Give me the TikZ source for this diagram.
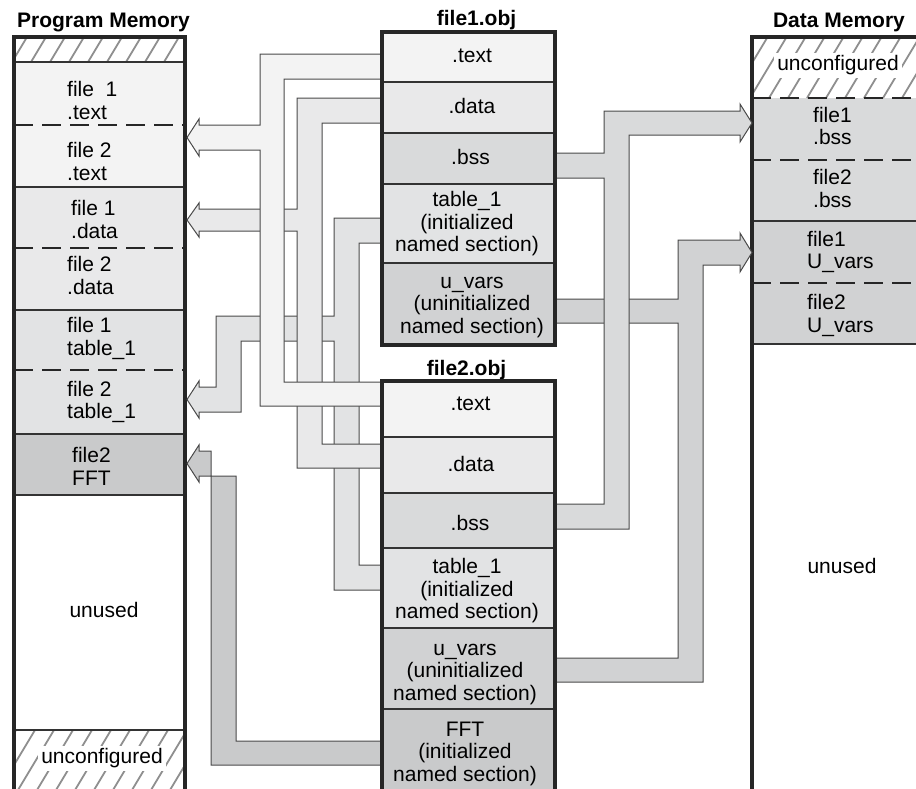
\documentclass[tikz,border=0pt]{standalone}
\usepackage{fontspec}
\setmainfont{Liberation Sans}
\definecolor{txtgray}{HTML}{F3F3F3}
\definecolor{datgray}{HTML}{E9E9EA}
\definecolor{tabgray}{HTML}{E2E3E4}
\definecolor{bssgray}{HTML}{D9DADB}
\definecolor{uvgray}{HTML}{D1D2D3}
\definecolor{fftgray}{HTML}{C9CACB}
\definecolor{edgegray}{HTML}{4A4A4A}
\definecolor{hatchgray}{HTML}{8F8F8F}

% hatched (unconfigured) area: x1, y1 (top), x2, y2 (bottom)
\newcommand{\hatcharea}[4]{%
  \begin{scope}
    \clip (#1,#2) rectangle (#3,#4);
    \fill[white] (#1,#2) rectangle (#3,#4);
    \foreach \k in {0,...,12}
      \draw[hatchline] ({#1-40+19*\k},#4) -- ++({0.6*(#4-#2)},{#2-#4});
  \end{scope}}

\begin{document}
\begin{tikzpicture}[
    x=1pt, y=-1pt,
    memframe/.style={draw=black!85, line width=3.5pt, line join=miter},
    secline/.style={draw=black!80, line width=1.3pt},
    dashsec/.style={draw=black!85, line width=2.5pt, dash pattern=on 19pt off 9pt},
    band/.style={draw=edgegray, line width=1pt, line join=miter},
    hatchline/.style={draw=hatchgray, line width=1.8pt},
    lbl/.style={font=\fontsize{21}{22.5}\selectfont, align=center, inner sep=0pt,
        execute at begin node=\strut, execute at end node=\strut},
    lblw/.style={lbl, align=left, anchor=west},
    ttl/.style={font=\fontsize{21}{22.5}\selectfont\bfseries, inner sep=0pt}
]
\useasboundingbox (0,0) rectangle (916,788);
\clip (0,0) rectangle (916,788);

% === Program Memory ===
\node[ttl] (pmtitle) at (103.5,22.5) {Program Memory};
\fill[txtgray] (14,62) rectangle (185,187);
\fill[datgray] (14,187) rectangle (185,310);
\fill[tabgray] (14,310) rectangle (185,434);
\fill[fftgray] (14,434) rectangle (185,495);
\hatcharea{14}{37}{185}{62}
\hatcharea{14}{730}{185}{800}
\draw[secline] (14,62) -- (185,62);
\draw[dashsec] (14,125) -- (185,125);
\draw[secline] (14,187) -- (185,187);
\draw[dashsec] (14,248) -- (185,248);
\draw[secline] (14,310) -- (185,310);
\draw[dashsec] (14,370) -- (185,370);
\draw[secline] (14,434) -- (185,434);
\draw[secline] (14,495) -- (185,495);
\draw[secline] (14,730) -- (185,730);
\draw[memframe] (14,800) -- (14,37) -- (185,37) -- (185,800);

\node[lblw] (pmtext1) at (67,103.6) {file\ \ 1\\.text};
\node[lblw] (pmtext2) at (67,165) {file 2\\.text};
\node[lblw] (pmdata1) at (71,222.6) {file 1\\.data};
\node[lblw] (pmdata2) at (67,278.6) {file 2\\.data};
\node[lblw] (pmtable1) at (67,339.6) {file 1\\table\_1};
\node[lblw] (pmtable2) at (67,403.1) {file 2\\table\_1};
\node[lblw] (pmfft) at (72,469.6) {file2\\FFT};
\node[lbl] (pmunused) at (104,612.6) {unused};
\node[lbl, fill=white, inner xsep=3pt, inner ysep=1pt] (pmunconf) at (102,758.6) {unconfigured};

% === Data Memory ===
\node[ttl] (dmtitle) at (839,22.5) {Data Memory};
\fill[bssgray] (752,98) rectangle (920,221);
\fill[uvgray] (752,221) rectangle (920,344);
\hatcharea{752}{37}{920}{98}
\draw[dashsec] (752,98) -- (920,98);
\draw[dashsec] (752,160) -- (920,160);
\draw[secline] (752,221) -- (920,221);
\draw[dashsec] (752,283) -- (920,283);
\draw[secline] (752,344) -- (920,344);
\draw[memframe] (752,800) -- (752,37) -- (920,37);

\node[lbl, fill=white, inner xsep=3pt, inner ysep=1pt] (dmunconf) at (838,65.6) {unconfigured};
\node[lblw] (dmbss1) at (813,129.1) {file1\\.bss};
\node[lblw] (dmbss2) at (813,191.6) {file2\\.bss};
\node[lblw] (dmuvars1) at (807,253.1) {file1\\U\_vars};
\node[lblw] (dmuvars2) at (807,316.6) {file2\\U\_vars};
\node[lbl] (dmunused) at (842,568.6) {unused};

% === Bands to Program Memory ===
% table_1 (file1 + file2)
\filldraw[band, fill=tabgray] (382,218) -- (334,218) -- (334,316) -- (216,316)
    -- (216,387) -- (199,387) -- (199,381) -- (187,399.5) -- (199,418) -- (199,412)
    -- (241,412) -- (241,341) -- (334,341) -- (334,590) -- (382,590) -- (382,565)
    -- (359,565) -- (359,243) -- (382,243) -- cycle;
% .data (file1 + file2)
\filldraw[band, fill=datgray] (382,98) -- (297,98) -- (297,209) -- (199,209)
    -- (199,203) -- (187,220) -- (199,237) -- (199,231) -- (297,231) -- (297,468)
    -- (382,468) -- (382,444) -- (322,444) -- (322,123) -- (382,123) -- cycle;
% .text (file1 + file2)
\filldraw[band, fill=txtgray] (382,54) -- (260,54) -- (260,125) -- (199,125)
    -- (199,119) -- (187,137.5) -- (199,156) -- (199,150) -- (260,150) -- (260,406)
    -- (382,406) -- (382,382) -- (284,382) -- (284,79) -- (382,79) -- cycle;
% FFT (file2)
\filldraw[band, fill=fftgray] (382,741) -- (236,741) -- (236,476) -- (199,476)
    -- (199,482) -- (187,463.5) -- (199,445) -- (199,451) -- (211,451) -- (211,765)
    -- (382,765) -- cycle;

% === Bands to Data Memory ===
% u_vars (file1 + file2)
\filldraw[band, fill=uvgray] (555,299) -- (678,299) -- (678,240) -- (740,240)
    -- (740,233) -- (752,252.5) -- (740,272) -- (740,265) -- (703,265) -- (703,682)
    -- (555,682) -- (555,658) -- (678,658) -- (678,323) -- (555,323) -- cycle;
% .bss (file1 + file2)
\filldraw[band, fill=bssgray] (555,153) -- (604,153) -- (604,111) -- (740,111)
    -- (740,104) -- (752,123) -- (740,142) -- (740,135) -- (629,135) -- (629,529)
    -- (555,529) -- (555,504) -- (604,504) -- (604,178) -- (555,178) -- cycle;

% === file1.obj ===
\node[ttl] (obj1title) at (476.5,20) {file1.obj};
\fill[txtgray] (382,32) rectangle (555,82);
\fill[datgray] (382,82) rectangle (555,133);
\fill[bssgray] (382,133) rectangle (555,184);
\fill[tabgray] (382,184) rectangle (555,263);
\fill[uvgray] (382,263) rectangle (555,345);
\draw[secline] (382,82) -- (555,82);
\draw[secline] (382,133) -- (555,133);
\draw[secline] (382,184) -- (555,184);
\draw[secline] (382,263) -- (555,263);
\draw[memframe] (382,32) rectangle (555,345);

\node[lbl] (o1text) at (472,57.5) {.text};
\node[lbl] (o1data) at (472,108.5) {.data};
\node[lbl] (o1bss) at (470.5,159.5) {.bss};
\node[lbl] (o1table) at (467,225) {table\_1\\(initialized\\named section)};
\node[lbl] (o1uvars) at (472,308.5) {u\_vars\\(uninitialized\\named section)};

% === file2.obj ===
\node[ttl] (obj2title) at (466.5,370.5) {file2.obj};
\fill[txtgray] (382,381) rectangle (555,437);
\fill[datgray] (382,437) rectangle (555,493);
\fill[bssgray] (382,493) rectangle (555,548);
\fill[tabgray] (382,548) rectangle (555,628);
\fill[uvgray] (382,628) rectangle (555,709);
\fill[fftgray] (382,709) rectangle (555,800);
\draw[secline] (382,437) -- (555,437);
\draw[secline] (382,493) -- (555,493);
\draw[secline] (382,548) -- (555,548);
\draw[secline] (382,628) -- (555,628);
\draw[secline] (382,709) -- (555,709);
\draw[memframe] (382,800) -- (382,381) -- (555,381) -- (555,800);

\node[lbl] (o2text) at (470.5,405.5) {.text};
\node[lbl] (o2data) at (471,466.5) {.data};
\node[lbl] (o2bss) at (470,525.5) {.bss};
\node[lbl] (o2table) at (467,592) {table\_1\\(initialized\\named section)};
\node[lbl] (o2uvars) at (465,675.5) {u\_vars\\(uninitialized\\named section)};
\node[lbl] (o2fft) at (465,755) {FFT\\(initialized\\named section)};

\end{tikzpicture}
\end{document}
